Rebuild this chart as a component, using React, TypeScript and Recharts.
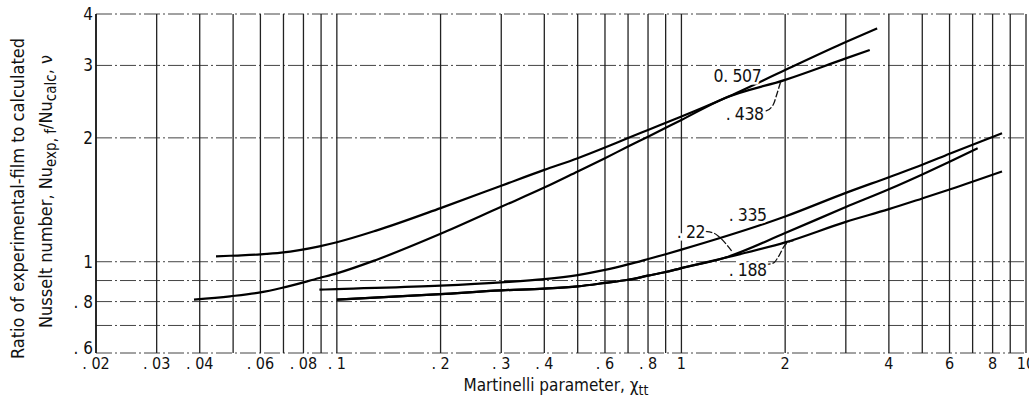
import { LineChart, Line, XAxis, YAxis, ReferenceLine, ReferenceDot } from 'recharts';

// axis ticks and grid positions (log paper)
const X_TICKS = [0.02, 0.03, 0.04, 0.06, 0.08, 0.1, 0.2, 0.3, 0.4, 0.6, 0.8, 1, 2, 4, 6, 8, 10];
const Y_TICKS = [0.6, 0.8, 1, 2, 3, 4];
const X_GRID = [0.02, 0.03, 0.04, 0.05, 0.06, 0.07, 0.08, 0.09, 0.1, 0.2, 0.3, 0.4, 0.5, 0.6, 0.7, 0.8, 0.9, 1, 2, 3, 4, 5, 6, 7, 8, 9, 10];
const Y_GRID = [0.6, 0.7, 0.8, 0.9, 1, 2, 3, 4];

// curves (x = Martinelli parameter, y = Nu ratio)
const C507_X = [0.0446, 0.049, 0.06, 0.069, 0.089, 0.1, 0.13, 0.2, 0.3, 0.4, 0.5, 0.6, 0.7, 0.8, 1.0, 1.34, 2.0, 3.0, 3.7];
const C507_Y = [1.03, 1.034, 1.042, 1.052, 1.09, 1.115, 1.19, 1.35, 1.53, 1.672, 1.785, 1.895, 1.998, 2.09, 2.253, 2.5, 2.924, 3.42, 3.69];

const C438_X = [0.0385, 0.049, 0.06, 0.069, 0.089, 0.1, 0.13, 0.2, 0.3, 0.4, 0.5, 0.6, 0.7, 0.8, 1.0, 1.34, 2.0, 3.0, 3.52];
const C438_Y = [0.809, 0.824, 0.842, 0.863, 0.913, 0.937, 1.01, 1.169, 1.36, 1.514, 1.657, 1.785, 1.905, 2.013, 2.211, 2.5, 2.767, 3.12, 3.27];

const C335_X = [0.089, 0.1, 0.2, 0.3, 0.4, 0.5, 0.6, 0.7, 0.8, 0.9, 1.0, 2.0, 3.0, 4.0, 5.0, 6.0, 8.52];
const C335_Y = [0.855, 0.858, 0.875, 0.891, 0.907, 0.928, 0.955, 0.985, 1.015, 1.043, 1.07, 1.288, 1.47, 1.605, 1.72, 1.83, 2.053];

const C22_X = [0.1, 0.2, 0.3, 0.4, 0.5, 0.6, 0.7, 0.8, 0.9, 1.0, 1.33, 2.0, 3.0, 4.0, 5.0, 6.0, 7.24];
const C22_Y = [0.809, 0.834, 0.852, 0.86, 0.871, 0.888, 0.904, 0.925, 0.944, 0.965, 1.021, 1.174, 1.358, 1.5, 1.63, 1.75, 1.888];

const C188_X = [0.1, 0.2, 0.3, 0.4, 0.5, 0.6, 0.7, 0.8, 0.9, 1.0, 1.33, 2.0, 3.0, 4.0, 5.0, 6.0, 8.52];
const C188_Y = [0.809, 0.834, 0.852, 0.86, 0.871, 0.888, 0.904, 0.925, 0.944, 0.965, 1.021, 1.114, 1.25, 1.342, 1.425, 1.498, 1.657];

// curve labels and their leader lines
const LABELS = ['0. 507', '. 438', '. 335', '. 22', '. 188'];
const LABEL_X = [1.24, 1.344, 1.371, 0.969, 1.371];
const LABEL_Y = [2.735, 2.211, 1.253, 1.144, 0.921];

const LEAD438_X = [1.653, 1.767, 1.851, 1.889, 1.94];
const LEAD438_Y = [2.312, 2.33, 2.418, 2.543, 2.735];
const LEAD22_X = [1.174, 1.241, 1.283, 1.341, 1.402];
const LEAD22_Y = [1.185, 1.174, 1.152, 1.11, 1.059];
const LEAD188_X = [1.732, 1.851, 1.914, 2.001, 2.116];
const LEAD188_Y = [0.983, 0.993, 1.03, 1.1, 1.126];

const FONT = "'Liberation Sans Narrow', 'DejaVu Sans Condensed', 'Roboto Condensed', 'Liberation Sans', sans-serif";

const zip = (xs: number[], ys: number[]) => xs.map((x, i) => ({ x, y: ys[i] }));

const CURVES = [
  zip(C507_X, C507_Y),
  zip(C438_X, C438_Y),
  zip(C335_X, C335_Y),
  zip(C22_X, C22_Y),
  zip(C188_X, C188_Y),
];
const LEADERS = [zip(LEAD438_X, LEAD438_Y), zip(LEAD22_X, LEAD22_Y), zip(LEAD188_X, LEAD188_Y)];

const fmt = (v: number) => (v < 1 ? '. ' + String(v).slice(2) : String(v));

function YTick({ x, y, payload }: any) {
  // bottom label sits a little above its line, as on the original sheet
  const lift = payload.value === 0.6 ? -5 : 0;
  return (
    <text x={x} y={y + lift} dy="0.355em" textAnchor="end" fontFamily={FONT} fontSize={17} fill="#111">
      {fmt(payload.value)}
    </text>
  );
}

function YTitle({ viewBox }: any) {
  const cy = viewBox.y + viewBox.height / 2;
  return (
    <g fontFamily={FONT} fontSize={18} fill="#111">
      <text transform={`translate(24, ${cy + 15}) rotate(-90)`} textAnchor="middle">
        Ratio of experimental-film to calculated
      </text>
      <text transform={`translate(52, ${cy + 8}) rotate(-90)`} textAnchor="middle">
        <tspan>Nusselt number,  Nu</tspan>
        <tspan dy={4} fontSize={15}>exp, f</tspan>
        <tspan dy={-4}>/Nu</tspan>
        <tspan dy={4} fontSize={15}>calc</tspan>
        <tspan dy={-4}>, ν</tspan>
      </text>
    </g>
  );
}

function XTitle({ viewBox }: any) {
  const cx = viewBox.x + viewBox.width / 2 - 5;
  return (
    <text x={cx} y={viewBox.y + 38} textAnchor="middle" fontFamily={FONT} fontSize={17} fill="#111">
      <tspan>Martinelli parameter,  χ</tspan>
      <tspan dy={4} fontSize={14}>tt</tspan>
    </text>
  );
}

export default function App() {
  return (
    <div style={{ position: 'absolute', left: 0, top: 0, width: 1029, height: 402, background: '#fff' }}>
      <LineChart width={1029} height={402} margin={{ top: 14, right: 3, bottom: 0, left: 0 }}>
        <XAxis
          dataKey="x"
          type="number"
          scale="log"
          domain={[0.02, 10]}
          allowDataOverflow
          ticks={X_TICKS}
          tickFormatter={fmt}
          tickSize={0}
          tickMargin={5}
          axisLine={false}
          height={49}
          interval={0}
          tick={{ fill: '#111', fontSize: 16, fontFamily: FONT }}
          label={{ content: XTitle }}
        />
        <YAxis
          dataKey="y"
          type="number"
          scale="log"
          domain={[0.6, 4]}
          allowDataOverflow
          ticks={Y_TICKS}
          tickSize={0}
          tickMargin={3}
          width={96}
          interval={0}
          axisLine={{ stroke: '#111', strokeWidth: 1.5 }}
          tick={<YTick />}
          label={{ content: YTitle }}
        />
        {Y_GRID.map((v) => (
          <ReferenceLine key={'h' + v} y={v} stroke="#444" strokeWidth={1} strokeDasharray="16 3 2 3" />
        ))}
        {X_GRID.map((v) => (
          <ReferenceLine key={'v' + v} x={v} stroke="#222" strokeWidth={1.3} />
        ))}
        {CURVES.map((d, i) => (
          <Line
            key={'c' + i}
            data={d}
            dataKey="y"
            type="monotone"
            stroke="#000"
            strokeWidth={2.2}
            dot={false}
            isAnimationActive={false}
          />
        ))}
        {LEADERS.map((d, i) => (
          <Line
            key={'l' + i}
            data={d}
            dataKey="y"
            type="monotone"
            stroke="#111"
            strokeWidth={1.3}
            strokeDasharray="7 2"
            dot={false}
            isAnimationActive={false}
          />
        ))}
        {LABELS.map((t, i) => (
          <ReferenceDot
            key={'t' + i}
            x={LABEL_X[i]}
            y={LABEL_Y[i]}
            r={0}
            shape={(p: any) => (
              <text
                x={p.cx}
                y={p.cy}
                fontFamily={FONT}
                fontSize={17.5}
                letterSpacing={-0.4}
                fill="#111"
                stroke="#fff"
                strokeWidth={5}
                paintOrder="stroke"
              >
                {t}
              </text>
            )}
          />
        ))}
      </LineChart>
    </div>
  );
}
